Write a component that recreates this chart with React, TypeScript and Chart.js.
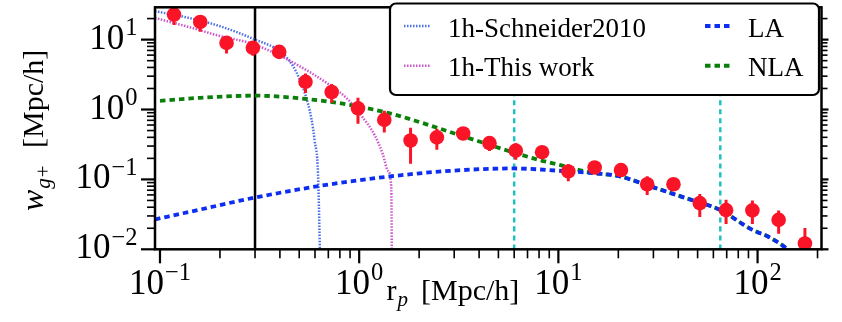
import React, { useEffect, useRef } from 'react';
import { Chart, registerables } from 'chart.js';

Chart.register(...registerables);

// ---- axis ranges & ticks ----
const X_MIN = 0.0944;
const X_MAX = 209.4;
const Y_MIN = 0.01;
const Y_MAX = 29.0;
const xTickExps = [-1, 0, 1, 2];
const yTickExps = [-2, -1, 0, 1];

// ---- measured w_g+ points ----
const rp = [0.1176, 0.1593, 0.2159, 0.2926, 0.3967, 0.5376, 0.7278, 0.9863, 1.337, 1.811, 2.455, 3.327, 4.51, 6.11, 8.284, 11.22, 15.21, 20.62, 27.92, 37.83, 51.28, 69.49, 94.2, 127.6, 172.9];
const wgp = [22.8, 17.9, 8.97, 7.64, 6.67, 2.49, 1.78, 1.04, 0.71, 0.36, 0.399, 0.454, 0.33, 0.258, 0.245, 0.13, 0.148, 0.136, 0.0853, 0.0853, 0.0458, 0.0363, 0.036, 0.0264, 0.0121];
const wgpLo = [16.2, 13.0, 6.31, 5.86, 6.0, 1.72, 1.25, 0.625, 0.469, 0.168, 0.266, 0.41, 0.255, 0.191, 0.225, 0.0938, 0.138, 0.126, 0.06, 0.075, 0.029, 0.023, 0.023, 0.0167, 0.005];
const wgpHi = [29.4, 21.1, 11.1, 8.97, 7.3, 3.27, 2.32, 1.47, 0.957, 0.55, 0.532, 0.5, 0.412, 0.33, 0.265, 0.165, 0.158, 0.146, 0.111, 0.095, 0.062, 0.051, 0.05, 0.036, 0.0202];

// ---- model curves ----
const schneiderR = [0.0944, 0.138, 0.2038, 0.288, 0.407, 0.464, 0.497, 0.533, 0.576, 0.598, 0.6216, 0.636];
const schneiderW = [25.5, 20.6, 15.3, 10.5, 6.52, 4.26, 2.9, 1.74, 0.733, 0.352, 0.1186, 0.008];

const thisWorkR = [0.0944, 0.138, 0.2038, 0.288, 0.438, 0.711, 0.879, 1.026, 1.196, 1.316, 1.394, 1.449, 1.459];
const thisWorkW = [20.4, 15.3, 11.1, 8.8, 5.16, 2.24, 1.39, 0.815, 0.43, 0.227, 0.133, 0.078, 0.008];

const laR = [0.0944, 0.1586, 0.2995, 0.634, 1.455, 2.84, 5.88, 10.1, 14.3, 20.2, 28.6, 43.8, 64.1, 93.8, 114, 139, 152];
const laW = [0.0268, 0.037, 0.055, 0.0807, 0.111, 0.1324, 0.1435, 0.133, 0.124, 0.111, 0.0807, 0.0538, 0.0371, 0.0191, 0.015, 0.0104, 0.0081];

const nlaR = [0.0944, 0.1586, 0.2996, 0.533, 0.896, 1.472, 2.011, 2.842, 4.018, 5.68, 8.03, 10.12, 14.3, 20.2, 28.6, 43.8, 64.1, 93.8, 114, 139, 152];
const nlaW = [1.316, 1.468, 1.58, 1.422, 1.166, 0.86, 0.66, 0.479, 0.348, 0.253, 0.1896, 0.1616, 0.1263, 0.111, 0.0807, 0.0538, 0.0371, 0.0191, 0.015, 0.0104, 0.0081];

// ---- reference lines ----
const rCut = 0.3;
const rFitRange = [6, 65];

// ---- legend ----
const legendLabels = ['1h-Schneider2010', '1h-This work', 'LA', 'NLA'];

const FONT = '"Liberation Serif", "Times New Roman", serif';
const RED = '#fa1428';
const C_SCH = '#4a6ee6';
const C_TW = '#cc55cc';
const C_LA = '#0d2ef2';
const C_NLA = '#0a800a';
const C_CYAN = '#1fc0c0';

const pts = (xs: number[], ys: number[]) => xs.map((x, i) => ({ x, y: ys[i] }));

function drawPow(ctx: CanvasRenderingContext2D, exp: number, x: number, baseline: number, align: 'center' | 'right') {
  const main = '10';
  const sup = exp < 0 ? '\u2212' + Math.abs(exp) : String(exp);
  ctx.font = `35px ${FONT}`;
  const wm = ctx.measureText(main).width;
  ctx.font = `24.5px ${FONT}`;
  const ws = ctx.measureText(sup).width;
  const total = wm + 1 + ws;
  const x0 = align === 'center' ? x - total / 2 : x - total;
  ctx.textAlign = 'left';
  ctx.textBaseline = 'alphabetic';
  ctx.fillStyle = '#000';
  ctx.font = `35px ${FONT}`;
  ctx.fillText(main, x0, baseline);
  ctx.font = `24.5px ${FONT}`;
  ctx.fillText(sup, x0 + wm + 1, baseline - 13.5);
}

const decorPlugin = {
  id: 'decor',
  beforeDatasetDraw(chart: any, args: any) {
    if (args.index !== 0) return;
    const ctx: CanvasRenderingContext2D = chart.ctx;
    const xs = chart.scales.x;
    const ys = chart.scales.y;
    const a = chart.chartArea;
    ctx.save();
    ctx.beginPath();
    ctx.rect(a.left, a.top, a.right - a.left, a.bottom - a.top);
    ctx.clip();
    ctx.strokeStyle = RED;
    ctx.lineWidth = 3;
    ctx.setLineDash([]);
    for (let i = 0; i < rp.length; i++) {
      const px = xs.getPixelForValue(rp[i]);
      ctx.beginPath();
      ctx.moveTo(px, ys.getPixelForValue(wgpLo[i]));
      ctx.lineTo(px, ys.getPixelForValue(wgpHi[i]));
      ctx.stroke();
    }
    ctx.restore();
  },
  afterDraw(chart: any) {
    const ctx: CanvasRenderingContext2D = chart.ctx;
    const xs = chart.scales.x;
    const ys = chart.scales.y;
    const a = chart.chartArea;
    ctx.save();
    ctx.setLineDash([]);
    ctx.strokeStyle = '#000';
    // spines
    ctx.lineWidth = 2.5;
    ctx.strokeRect(a.left, a.top, a.right - a.left, a.bottom - a.top);

    // ticks
    const tick = (x1: number, y1: number, x2: number, y2: number, w: number) => {
      ctx.lineWidth = w;
      ctx.beginPath();
      ctx.moveTo(x1, y1);
      ctx.lineTo(x2, y2);
      ctx.stroke();
    };
    for (let e = -2; e <= 3; e++) {
      for (let m = 1; m <= 9; m++) {
        const v = m * Math.pow(10, e);
        const major = m === 1;
        if (v >= X_MIN && v <= X_MAX) {
          const px = xs.getPixelForValue(v);
          tick(px, a.bottom, px, a.bottom + (major ? 14 : 9), major ? 2.2 : 1.6);
        }
        if (v >= Y_MIN && v <= Y_MAX) {
          const py = ys.getPixelForValue(v);
          tick(a.left - (major ? 14 : 8), py, a.left, py, major ? 2.2 : 1.6);
          tick(a.right, py, a.right + (major ? 7 : 6), py, major ? 2.2 : 1.6);
        }
      }
    }
    // tick labels
    for (const e of xTickExps) {
      const px = xs.getPixelForValue(Math.pow(10, e));
      drawPow(ctx, e, px, 293.5, 'center');
    }
    for (const e of yTickExps) {
      const py = ys.getPixelForValue(Math.pow(10, e));
      drawPow(ctx, e, 137.5, py + 9, 'right');
    }

    // x title: r_p [Mpc/h]
    ctx.fillStyle = '#000';
    ctx.textAlign = 'left';
    ctx.textBaseline = 'alphabetic';
    ctx.font = `30px ${FONT}`;
    ctx.fillText('r', 386.5, 300);
    ctx.font = `italic 21px ${FONT}`;
    ctx.fillText('p', 397.5, 305.5);
    ctx.font = `30px ${FONT}`;
    ctx.fillText('[Mpc/h]', 421, 300);

    // y title: w_{g+} [Mpc/h]
    ctx.save();
    ctx.translate(43, 211);
    ctx.rotate(-Math.PI / 2);
    ctx.font = `italic 32px ${FONT}`;
    ctx.fillText('w', 0, 0);
    const ww = ctx.measureText('w').width;
    ctx.font = `italic 21px ${FONT}`;
    ctx.fillText('g', ww + 1, 7);
    const wg = ctx.measureText('g').width;
    ctx.font = `21px ${FONT}`;
    ctx.fillText('+', ww + 1 + wg + 1, 7);
    ctx.font = `30px ${FONT}`;
    ctx.fillText('[Mpc/h]', 63, 0);
    ctx.restore();

    // legend
    const lx = 390, ly = 3.5, lw = 429, lh = 91.5;
    ctx.beginPath();
    (ctx as any).roundRect(lx, ly, lw, lh, 6);
    ctx.fillStyle = '#fff';
    ctx.fill();
    ctx.lineWidth = 2.2;
    ctx.strokeStyle = '#000';
    ctx.stroke();

    const handles = [
      { x: 404, y: 26, color: C_SCH, w: 2.5, dash: [1.5, 1.5], tx: 448, ty: 36.5 },
      { x: 404, y: 65.7, color: C_TW, w: 2.5, dash: [1.5, 1.5], tx: 448, ty: 76 },
      { x: 705, y: 26, color: C_LA, w: 4, dash: [5.5, 4], tx: 748, ty: 36.5 },
      { x: 705, y: 65.7, color: C_NLA, w: 4, dash: [5.5, 4], tx: 748, ty: 76 },
    ];
    handles.forEach((h, i) => {
      ctx.strokeStyle = h.color;
      ctx.lineWidth = h.w;
      ctx.setLineDash(h.dash);
      ctx.beginPath();
      ctx.moveTo(h.x, h.y);
      ctx.lineTo(h.x + 26, h.y);
      ctx.stroke();
      ctx.setLineDash([]);
      ctx.fillStyle = '#000';
      ctx.font = `27px ${FONT}`;
      ctx.fillText(legendLabels[i], h.tx, h.ty);
    });
    ctx.restore();
  },
};

export default function App() {
  const ref = useRef<HTMLCanvasElement | null>(null);
  useEffect(() => {
    if (!ref.current) return;
    const curve = (data: any, color: string, width: number, dash: number[], order: number, offset = 0) => ({
      data,
      borderColor: color,
      borderWidth: width,
      borderDash: dash,
      borderDashOffset: offset,
      pointRadius: 0,
      fill: false,
      cubicInterpolationMode: 'monotone',
      order,
    });
    const chart = new Chart(ref.current, {
      type: 'line',
      data: {
        datasets: [
          {
            data: pts(rp, wgp),
            showLine: false,
            pointRadius: 7.3,
            pointBackgroundColor: RED,
            pointBorderWidth: 0,
            order: 0,
          } as any,
          curve(pts(laR, laW), C_LA, 3.8, [5.5, 4], 1),
          curve(pts(nlaR, nlaW), C_NLA, 3.8, [5.5, 4], 2, 4.5),
          curve(pts(thisWorkR, thisWorkW), C_TW, 2.5, [1.5, 1.5], 3),
          curve(pts(schneiderR, schneiderW), C_SCH, 2.5, [1.5, 1.5], 4),
          curve([{ x: rFitRange[0], y: Y_MIN }, { x: rFitRange[0], y: Y_MAX }], C_CYAN, 2.5, [5, 4], 5),
          curve([{ x: rFitRange[1], y: Y_MIN }, { x: rFitRange[1], y: Y_MAX }], C_CYAN, 2.5, [5, 4], 6),
          curve([{ x: rCut, y: Y_MIN }, { x: rCut, y: Y_MAX }], '#000', 2.5, [], 7),
        ] as any,
      },
      options: {
        responsive: false,
        animation: false,
        devicePixelRatio: 1,
        layout: { padding: { left: 155, right: 20.5, top: 0, bottom: 72.7 } },
        scales: {
          x: { type: 'logarithmic', min: X_MIN, max: X_MAX, display: false },
          y: { type: 'logarithmic', min: Y_MIN, max: Y_MAX, display: false },
        },
        plugins: { legend: { display: false }, tooltip: { enabled: false } },
      } as any,
      plugins: [decorPlugin],
    });
    return () => chart.destroy();
  }, []);
  return (
    <div style={{ position: 'absolute', left: 0, top: 0, width: 842, height: 322, background: '#fff' }}>
      <canvas ref={ref} width={842} height={322} style={{ display: 'block' }} />
    </div>
  );
}
